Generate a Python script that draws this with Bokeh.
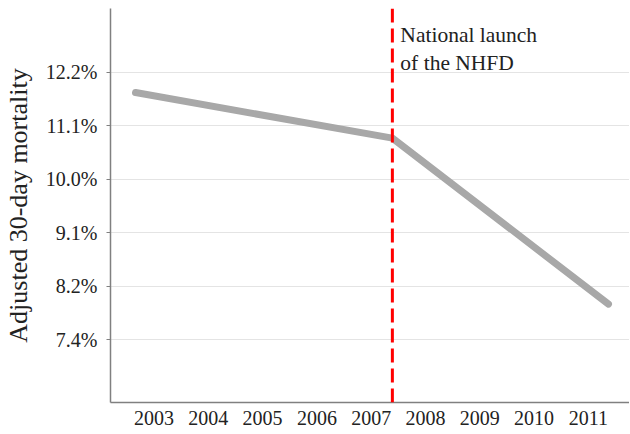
from bokeh.plotting import figure
from bokeh.models import Range1d, FixedTicker, Span, Label
from bokeh.embed import file_html
from bokeh.resources import INLINE

# Data
years = [2002.66, 2007.39, 2011.37]
mortality = [11.76, 10.80, 7.92]
launch_year = 2007.39
x_ticks = [2003, 2004, 2005, 2006, 2007, 2008, 2009, 2010, 2011]
y_ticks = [7.408, 8.187, 9.048, 10.0, 11.052, 12.214]
y_tick_labels = ["7.4%", "8.2%", "9.1%", "10.0%", "11.1%", "12.2%"]

FONT = "Liberation Serif"

p = figure(
    frame_width=519, frame_height=394,
    x_range=Range1d(2002.199, 2011.757),
    y_range=Range1d(6.59, 13.76),
    y_axis_type="log",
    output_backend="svg", toolbar_location=None,
    min_border_left=107, min_border_right=0, min_border_top=8, min_border_bottom=0,
)
p.outline_line_color = None
p.background_fill_color = "white"
p.border_fill_color = "white"

# grids
p.xgrid.grid_line_color = None
p.ygrid.grid_line_color = "#e4e4e4"
p.ygrid.grid_line_width = 1.2

# x axis
p.xaxis.ticker = FixedTicker(ticks=x_ticks)
p.xaxis.major_label_overrides = {t: str(t) for t in x_ticks}
p.xaxis.major_tick_out = 0
p.xaxis.major_tick_in = 0
p.xaxis.minor_tick_out = 0
p.xaxis.minor_tick_in = 0
p.xaxis.axis_line_color = "#808080"
p.xaxis.axis_line_width = 1.5
p.xaxis.major_label_standoff = 8
p.xaxis.major_label_text_font = FONT
p.xaxis.major_label_text_font_size = "20px"
p.xaxis.major_label_text_color = "#222222"

# y axis
p.yaxis.ticker = FixedTicker(ticks=y_ticks)
p.yaxis.major_label_overrides = dict(zip(y_ticks, y_tick_labels))
p.yaxis.major_tick_out = 4
p.yaxis.major_tick_in = 0
p.yaxis.minor_tick_out = 0
p.yaxis.minor_tick_in = 0
p.yaxis.major_tick_line_color = "#808080"
p.yaxis.axis_line_color = "#808080"
p.yaxis.axis_line_width = 1.5
p.yaxis.major_label_standoff = 9
p.yaxis.major_label_text_font = FONT
p.yaxis.major_label_text_font_size = "20px"
p.yaxis.major_label_text_color = "#222222"
p.yaxis.axis_label = "Adjusted 30-day mortality"
p.yaxis.axis_label_text_font = FONT
p.yaxis.axis_label_text_font_size = "26px"
p.yaxis.axis_label_text_font_style = "normal"
p.yaxis.axis_label_text_color = "#222222"
p.yaxis.axis_label_standoff = 10

# series line
p.line(x=years, y=mortality, line_color="#a8a8a8", line_width=7,
       line_cap="round", line_join="round")

# launch marker
p.add_layout(Span(location=launch_year, dimension="height", line_color="#ff0000",
                  line_width=3, line_dash="14 6"))
p.add_layout(Label(x=launch_year, y=13.40, x_offset=8,
                   text="National launch\nof the NHFD",
                   text_font=FONT, text_font_size="21.5px", text_color="#222222",
                   text_baseline="top", text_align="left"))

open("out.html", "w").write(file_html(p, INLINE))
